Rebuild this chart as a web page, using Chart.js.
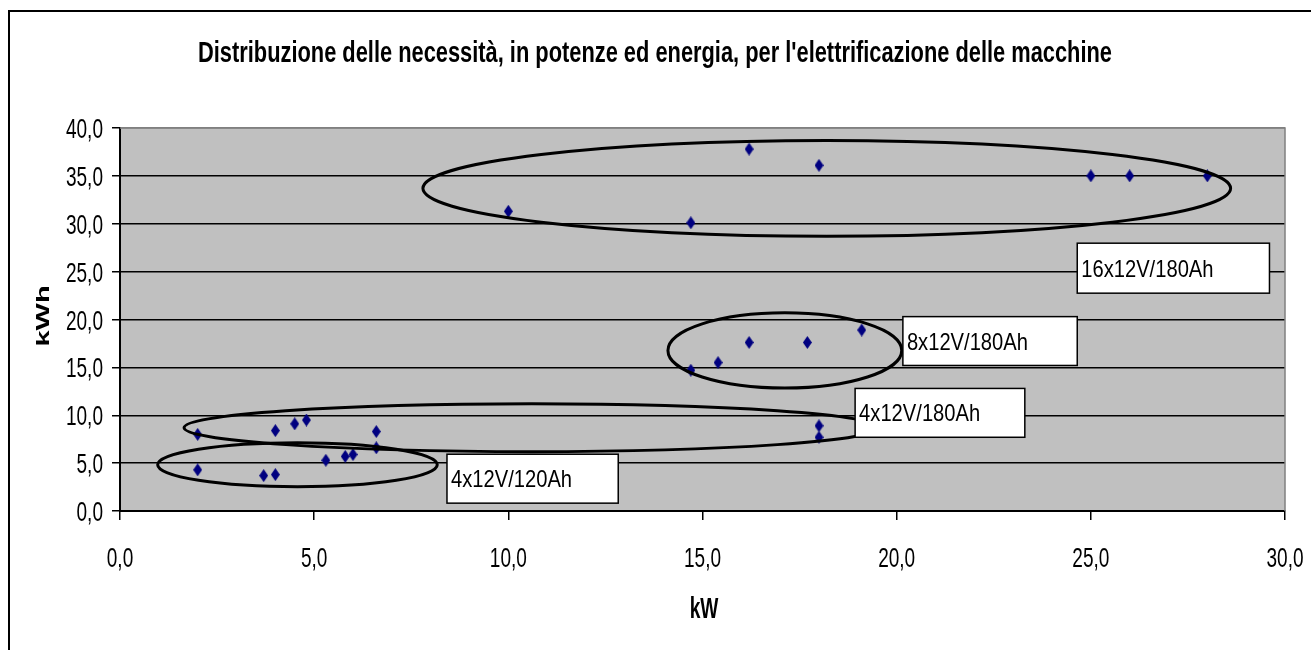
<!DOCTYPE html>
<html>
<head>
<meta charset="utf-8">
<script src="https://cdn.jsdelivr.net/npm/chart.js@4.4.0/dist/chart.umd.min.js"></script>
<style>
  html, body { margin: 0; padding: 0; background: #ffffff; }
  #wrap { width: 1311px; height: 650px; position: relative; }
</style>
</head>
<body>
<div id="wrap"><canvas id="chart" width="1311" height="650"></canvas></div>
<script>
// values
const kW  = [2.0, 2.0, 3.7, 4.0, 4.0, 4.5, 4.8, 5.3, 5.8, 6.0, 6.6, 6.6,
             10.0, 14.7, 14.7, 15.4, 16.2, 17.7, 19.1, 18.0, 18.0, 16.2, 18.0, 25.0, 26.0, 28.0];
const kWh = [8.0, 4.3, 3.7, 3.8, 8.4, 9.1, 9.5, 5.3, 5.7, 5.9, 8.3, 6.6,
             31.3, 30.1, 14.7, 15.5, 17.6, 17.6, 18.9, 8.9, 7.7, 37.8, 36.1, 35.0, 35.0, 35.0];

const xTicks = [0, 5, 10, 15, 20, 25, 30];
const yTicks = [0, 5, 10, 15, 20, 25, 30, 35, 40];

const titleText = "Distribuzione delle necessità, in potenze ed energia, per l'elettrificazione delle macchine";
const xTitle = 'kW';
const yTitle = 'kWh';
const groupLabels = ['16x12V/180Ah', '8x12V/180Ah', '4x12V/180Ah', '4x12V/120Ah'];

const FONT = "'Liberation Sans', Arial, sans-serif";

// groups circled on the chart (in axis units)
const groupRings = [
  { cx: 18.2,  cy: 33.7,  rx: 10.4, ry: 5.0 },
  { cx: 17.12, cy: 16.77, rx: 3.01, ry: 3.93 },
  { cx: 10.6,  cy: 8.7,   rx: 8.95, ry: 2.5 },
  { cx: 4.57,  cy: 4.83,  rx: 3.6,  ry: 2.3 }
];
// label boxes (axis units: x1, x2, yTop, yBottom)
const groupBoxes = [
  { x1: 24.65, x2: 29.6,  y1: 27.97, y2: 22.75 },
  { x1: 20.16, x2: 24.65, y1: 20.3,  y2: 15.2 },
  { x1: 18.93, x2: 23.3,  y1: 12.8,  y2: 7.7 },
  { x1: 8.42,  x2: 12.83, y1: 5.93,  y2: 0.82 }
];

const points = kW.map((x, i) => ({ x: x, y: kWh[i] }));

// tall navy diamond marker
const diamond = document.createElement('canvas');
diamond.width = 9;
diamond.height = 13;
const dctx = diamond.getContext('2d');
dctx.fillStyle = '#000080';
dctx.beginPath();
dctx.moveTo(4.5, 0);
dctx.lineTo(9, 6.5);
dctx.lineTo(4.5, 13);
dctx.lineTo(0, 6.5);
dctx.closePath();
dctx.fill();

const fmt = v => Number(v).toFixed(1).replace('.', ',');

// condensed text: squeeze across the reading direction of the glyph width
function squeezed(ctx, text, x, y, font, sx, align, rot) {
  ctx.save();
  ctx.translate(x, y);
  if (rot) ctx.rotate(rot);
  ctx.scale(sx, 1);
  ctx.font = font;
  ctx.textAlign = align;
  ctx.textBaseline = 'alphabetic';
  ctx.fillStyle = '#000000';
  ctx.fillText(text, 0, 0);
  ctx.restore();
}

const decor = {
  id: 'decor',
  beforeDraw(chart) {
    const ctx = chart.ctx;
    const a = chart.chartArea;
    ctx.save();
    ctx.fillStyle = '#ffffff';
    ctx.fillRect(0, 0, chart.width, chart.height);
    // outer frame
    ctx.strokeStyle = '#000000';
    ctx.lineWidth = 2;
    ctx.strokeRect(9, 11, 1400, 700);
    // plot background
    ctx.fillStyle = '#c0c0c0';
    ctx.fillRect(a.left, a.top, a.right - a.left, a.bottom - a.top);
    ctx.restore();

    // title, fitted to the width it has in the picture
    ctx.save();
    ctx.font = 'bold 30px ' + FONT;
    const tw = ctx.measureText(titleText).width;
    ctx.restore();
    squeezed(ctx, titleText, 655, 62, 'bold 30px ' + FONT, 914 / tw, 'center');
  },
  afterDatasetsDraw(chart) {
    const ctx = chart.ctx;
    const a = chart.chartArea;
    const xs = chart.scales.x, ys = chart.scales.y;
    ctx.save();
    // gray border top/right
    ctx.strokeStyle = '#808080';
    ctx.lineWidth = 1.5;
    ctx.beginPath();
    ctx.moveTo(a.left, a.top);
    ctx.lineTo(a.right, a.top);
    ctx.lineTo(a.right, a.bottom);
    ctx.stroke();
    // rings
    ctx.strokeStyle = '#000000';
    ctx.lineWidth = 3;
    groupRings.forEach(r => {
      const cx = xs.getPixelForValue(r.cx);
      const cy = ys.getPixelForValue(r.cy);
      const rx = Math.abs(xs.getPixelForValue(r.cx + r.rx) - cx);
      const ry = Math.abs(ys.getPixelForValue(r.cy + r.ry) - cy);
      ctx.beginPath();
      ctx.ellipse(cx, cy, rx, ry, 0, 0, Math.PI * 2);
      ctx.stroke();
    });
    ctx.restore();
    // label boxes
    groupBoxes.forEach((b, i) => {
      const x1 = xs.getPixelForValue(b.x1), x2 = xs.getPixelForValue(b.x2);
      const y1 = ys.getPixelForValue(b.y1), y2 = ys.getPixelForValue(b.y2);
      ctx.save();
      ctx.fillStyle = '#ffffff';
      ctx.fillRect(x1, y1, x2 - x1, y2 - y1);
      ctx.strokeStyle = '#000000';
      ctx.lineWidth = 1.5;
      ctx.strokeRect(x1, y1, x2 - x1, y2 - y1);
      ctx.restore();
      squeezed(ctx, groupLabels[i], x1 + 4, (y1 + y2) / 2 + 8.5, '24px ' + FONT, 0.84, 'left');
    });
  },
  afterDraw(chart) {
    const ctx = chart.ctx;
    const xs = chart.scales.x, ys = chart.scales.y;
    // tick labels from the scales' own ticks
    xs.ticks.forEach(t => {
      squeezed(ctx, fmt(t.value), xs.getPixelForValue(t.value), 567, '28px ' + FONT, 0.68, 'center');
    });
    ys.ticks.forEach(t => {
      squeezed(ctx, fmt(t.value), 103, ys.getPixelForValue(t.value) + 10, '28px ' + FONT, 0.68, 'right');
    });
    // axis titles
    squeezed(ctx, xTitle, 704, 618, 'bold 29px ' + FONT, 0.66, 'center');
    ctx.save();
    ctx.translate(49, 316);
    ctx.rotate(-Math.PI / 2);
    ctx.scale(1, 0.66);
    ctx.font = 'bold 29px ' + FONT;
    ctx.textAlign = 'center';
    ctx.textBaseline = 'alphabetic';
    ctx.fillStyle = '#000000';
    // after the squeeze the baseline sits 0 px from the anchor
    ctx.fillText(yTitle, 0, 0);
    ctx.restore();
  }
};

new Chart(document.getElementById('chart').getContext('2d'), {
  type: 'scatter',
  data: {
    datasets: [{
      label: 'kWh',
      data: points,
      pointStyle: diamond,
      pointRadius: 6,
      pointHoverRadius: 6,
      showLine: false
    }]
  },
  options: {
    responsive: false,
    animation: false,
    events: [],
    layout: { padding: { top: 128, right: 26, left: 0, bottom: 0 } },
    plugins: {
      legend: { display: false },
      tooltip: { enabled: false }
    },
    scales: {
      x: {
        type: 'linear',
        min: 0,
        max: 30,
        afterBuildTicks: s => { s.ticks = xTicks.map(v => ({ value: v })); },
        afterFit: s => { s.height = 139; },
        border: { display: true, color: '#000000', width: 2 },
        grid: { drawOnChartArea: false, drawTicks: true, tickLength: 9, tickColor: '#000000', lineWidth: 1.5 },
        ticks: { display: false }
      },
      y: {
        type: 'linear',
        min: 0,
        max: 40,
        afterBuildTicks: s => { s.ticks = yTicks.map(v => ({ value: v })); },
        afterFit: s => { s.width = 120; },
        border: { display: true, color: '#000000', width: 2 },
        grid: {
          color: ctx => (ctx.tick && ctx.tick.value === 40) ? '#808080' : '#000000',
          lineWidth: 1.5,
          tickLength: 8,
          tickColor: '#000000'
        },
        ticks: { display: false }
      }
    }
  },
  plugins: [decor]
});
</script>
</body>
</html>
